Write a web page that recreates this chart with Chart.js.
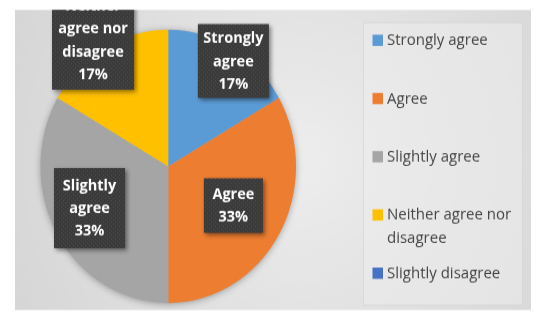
<!DOCTYPE html>
<html>
<head>
<meta charset="utf-8">
<script src="https://cdn.jsdelivr.net/npm/chart.js@4/dist/chart.umd.min.js"></script>
<style>
  html { margin: 0; padding: 0; background: #ffffff; overflow: hidden; }
  body { margin: 0; padding: 0; background: #ffffff; height: 320px; }
  #wrap { width: 544px; height: 299px; transform: scaleY(1.0702); transform-origin: 0 0; }
  canvas { display: block; }
</style>
</head>
<body>
<div id="wrap"><canvas id="c" width="544" height="299"></canvas></div>
<script>
// ---- data ----
const categories = ['Strongly agree', 'Agree', 'Slightly agree', 'Neither agree nor disagree', 'Slightly disagree'];
const responses = [1, 2, 2, 1, 0];
const sliceColors = ['#5B9BD5', '#ED7D31', '#A5A5A5', '#FFC000', '#4472C4'];

// ---- label placement (styling, not data) ----
const labelPlacement = [
  { rf: 0.924, da: 3.5, w: 71, h: 69 },
  { rf: 0.585, da: -0.6, w: 59, h: 51 },
  { rf: 0.688, da: 3.6, w: 71, h: 75 },
  { rf: 1.096, da: -2.5, w: 82, h: 93 },
  null
];
const panel = { x: 15, y: 9.3, w: 516, h: 280.4 };
const legendBox = { x: 363, y: 20.6, w: 160, h: 265 };

function wrapText(ctx, text, maxW) {
  const words = text.split(' ');
  const lines = [];
  let cur = '';
  for (const w of words) {
    const t = cur ? cur + ' ' + w : w;
    if (ctx.measureText(t).width <= maxW || !cur) cur = t;
    else { lines.push(cur); cur = w; }
  }
  if (cur) lines.push(cur);
  return lines;
}

function makePattern(ctx) {
  const p = document.createElement('canvas');
  p.width = 4; p.height = 4;
  const pc = p.getContext('2d');
  pc.fillStyle = '#3b3b3b';
  pc.fillRect(0, 0, 4, 4);
  pc.fillStyle = '#4b4b4b';
  pc.fillRect(1, 1, 1, 1);
  pc.fillRect(3, 3, 1, 1);
  return ctx.createPattern(p, 'repeat');
}

const backgroundPlugin = {
  id: 'panelBg',
  beforeDraw(chart) {
    const ctx = chart.ctx;
    ctx.save();
    const g = ctx.createRadialGradient(300, 150, 20, 300, 150, 340);
    g.addColorStop(0, '#ececec');
    g.addColorStop(1, '#d4d4d4');
    ctx.fillStyle = g;
    ctx.fillRect(panel.x, panel.y, panel.w, panel.h);
    ctx.restore();
  },
  beforeDatasetsDraw(chart) {
    const arc = chart.getDatasetMeta(0).data[0];
    if (!arc) return;
    const { x, y, outerRadius } = arc.getProps(['x', 'y', 'outerRadius'], true);
    const ctx = chart.ctx;
    ctx.save();
    ctx.shadowColor = 'rgba(0,0,0,0.35)';
    ctx.shadowBlur = 7;
    ctx.shadowOffsetX = 0;
    ctx.shadowOffsetY = 1;
    ctx.fillStyle = '#b0b0b0';
    ctx.beginPath();
    ctx.arc(x, y, outerRadius - 0.5, 0, Math.PI * 2);
    ctx.fill();
    ctx.restore();
  }
};

const dataLabelPlugin = {
  id: 'boxLabels',
  afterDatasetsDraw(chart) {
    const ctx = chart.ctx;
    const meta = chart.getDatasetMeta(0);
    const values = chart.data.datasets[0].data;
    const total = values.reduce((a, b) => a + b, 0);
    const pattern = makePattern(ctx);
    ctx.save();
    ctx.beginPath();
    ctx.rect(panel.x, panel.y, panel.w, panel.h);
    ctx.clip();
    meta.data.forEach((arc, i) => {
      const v = values[i];
      const pl = labelPlacement[i];
      if (!v || !pl) return;
      const { x, y, startAngle, endAngle, outerRadius } =
        arc.getProps(['x', 'y', 'startAngle', 'endAngle', 'outerRadius'], true);
      const mid = (startAngle + endAngle) / 2 + pl.da * Math.PI / 180;
      const cx = x + Math.cos(mid) * pl.rf * outerRadius;
      const cy = y + Math.sin(mid) * pl.rf * outerRadius;
      ctx.font = 'bold 14.5px "Open Sans"';
      const lines = wrapText(ctx, chart.data.labels[i], pl.w - 6);
      lines.push(Math.round(v / total * 100) + '%');
      ctx.save();
      ctx.shadowColor = 'rgba(0,0,0,0.45)';
      ctx.shadowBlur = 4;
      ctx.shadowOffsetX = 2;
      ctx.shadowOffsetY = 2;
      ctx.fillStyle = pattern;
      ctx.fillRect(cx - pl.w / 2, cy - pl.h / 2, pl.w, pl.h);
      ctx.restore();
      ctx.fillStyle = '#ffffff';
      ctx.textAlign = 'center';
      ctx.textBaseline = 'middle';
      const lh = 21.3;
      const y0 = cy - (lines.length - 1) * lh / 2;
      lines.forEach((t, k) => ctx.fillText(t, cx, y0 + k * lh + 0.5));
    });
    ctx.restore();
  }
};

const legendPlugin = {
  id: 'sideLegend',
  afterDraw(chart) {
    const ctx = chart.ctx;
    const ds = chart.data.datasets[0];
    ctx.save();
    ctx.fillStyle = 'rgba(236,236,236,0.55)';
    ctx.fillRect(legendBox.x, legendBox.y, legendBox.w, legendBox.h);
    ctx.strokeStyle = 'rgba(190,190,190,0.35)';
    ctx.lineWidth = 1;
    ctx.strokeRect(legendBox.x + 0.5, legendBox.y + 0.5, legendBox.w - 1, legendBox.h - 1);
    ctx.font = '15px "Open Sans"';
    ctx.textAlign = 'left';
    ctx.textBaseline = 'middle';
    chart.data.labels.forEach((lab, i) => {
      const yy = 37.4 + i * 54.4;
      ctx.fillStyle = ds.backgroundColor[i];
      ctx.fillRect(372.5, yy - 5, 10.5, 10.5);
      ctx.fillStyle = '#454545';
      const lines = wrapText(ctx, lab, 136);
      lines.forEach((t, k) => ctx.fillText(t, 387, yy + k * 21.5 + 0.5));
    });
    ctx.restore();
  }
};

new Chart(document.getElementById('c'), {
  type: 'pie',
  data: {
    labels: categories,
    datasets: [{
      data: responses,
      backgroundColor: sliceColors,
      borderWidth: 0,
      hoverOffset: 0
    }]
  },
  options: {
    responsive: false,
    animation: false,
    devicePixelRatio: 1,
    layout: { padding: { left: 40.5, right: 248, top: 27.65, bottom: 15.85 } },
    plugins: {
      legend: { display: false },
      tooltip: { enabled: false }
    },
    events: []
  },
  plugins: [backgroundPlugin, dataLabelPlugin, legendPlugin]
});
</script>
</body>
</html>
